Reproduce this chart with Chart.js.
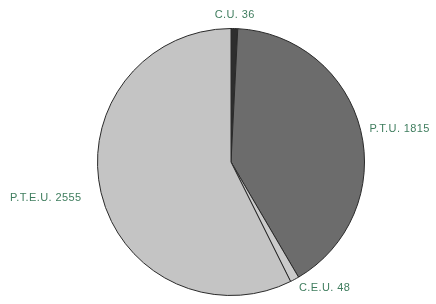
<!DOCTYPE html>
<html>
<head>
<meta charset="utf-8">
<script src="https://cdn.jsdelivr.net/npm/chart.js@4"></script>
<style>
  html, body { margin: 0; padding: 0; background: #ffffff; }
  #wrap { width: 436px; height: 304px; }
</style>
</head>
<body>
<div id="wrap"><canvas id="pie" width="436" height="304"></canvas></div>
<script>
// slices clockwise from the top
const categories = ["C.U.", "P.T.U.", "C.E.U.", "P.T.E.U."];
const values = [36, 1815, 48, 2555];
const sliceColors = ["#2e2e2e", "#6c6c6c", "#cbcbcb", "#c4c4c4"];

// labels drawn just outside the rim, aligned by which side of the pie they fall on
const outsideLabels = {
  id: "outsideLabels",
  afterDatasetsDraw(chart) {
    const ctx = chart.ctx;
    const arcs = chart.getDatasetMeta(0).data;
    ctx.save();
    ctx.font = "11px 'Liberation Sans', Arial, sans-serif";
    ctx.letterSpacing = "0.4px";
    ctx.fillStyle = "#3f7d5e";
    ctx.textBaseline = "middle";
    arcs.forEach((arc, i) => {
      const mid = (arc.startAngle + arc.endAngle) / 2;
      const c = Math.cos(mid);
      const r = arc.outerRadius + (c > 0.3 ? 9 : (c < -0.3 ? 20 : 15));
      const x = arc.x + c * r;
      const y = arc.y + Math.sin(mid) * r + 1;
      ctx.textAlign = c > 0.3 ? "left" : (c < -0.3 ? "right" : "center");
      ctx.fillText(categories[i] + " " + values[i], x, y);
    });
    ctx.restore();
  }
};

new Chart(document.getElementById("pie").getContext("2d"), {
  type: "pie",
  data: {
    labels: categories,
    datasets: [{
      data: values,
      backgroundColor: sliceColors,
      borderColor: "#2a2a2a",
      borderWidth: 1
    }]
  },
  options: {
    responsive: false,
    animation: false,
    layout: { padding: { top: 28, bottom: 8, left: 97, right: 71 } },
    plugins: {
      legend: { display: false },
      tooltip: { enabled: false }
    }
  },
  plugins: [outsideLabels]
});
</script>
</body>
</html>
